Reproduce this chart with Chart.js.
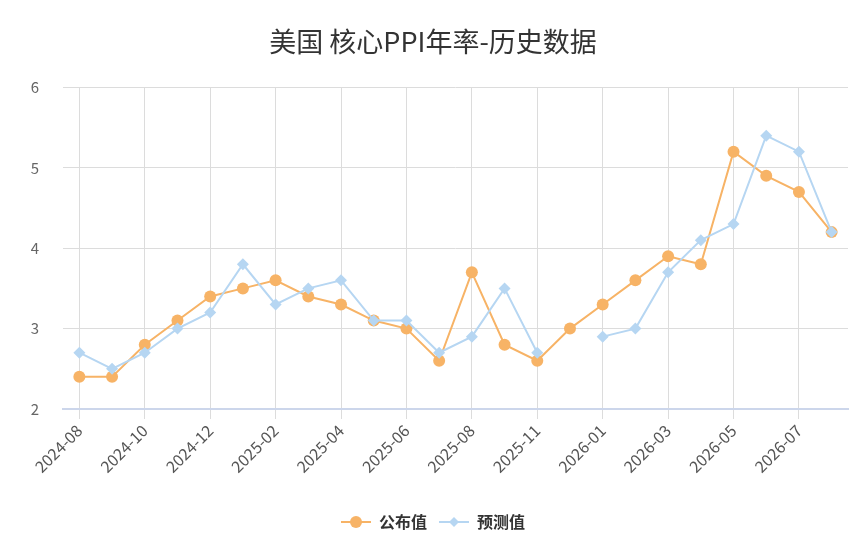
<!DOCTYPE html>
<html>
<head>
<meta charset="utf-8">
<script src="https://cdn.jsdelivr.net/npm/chart.js@4/dist/chart.umd.min.js"></script>
<style>
  html, body { margin: 0; padding: 0; background: #fff; }
  #wrap { width: 866px; height: 557px; }
</style>
</head>
<body>
<div id="wrap"><canvas id="ppi-chart"></canvas></div>
<script>
const months = ['2024-08', '2024-09', '2024-10', '2024-11', '2024-12', '2025-01', '2025-02', '2025-03',
  '2025-04', '2025-05', '2025-06', '2025-07', '2025-08', '2025-09', '2025-11', '2025-12',
  '2026-01', '2026-02', '2026-03', '2026-04', '2026-05', '2026-06', '2026-07', '2026-08'];
const published = [2.4, 2.4, 2.8, 3.1, 3.4, 3.5, 3.6, 3.4, 3.3, 3.1, 3.0, 2.6, 3.7, 2.8, 2.6, 3.0,
  3.3, 3.6, 3.9, 3.8, 5.2, 4.9, 4.7, 4.2];
const forecast = [2.7, 2.5, 2.7, 3.0, 3.2, 3.8, 3.3, 3.5, 3.6, 3.1, 3.1, 2.7, 2.9, 3.5, 2.7, null,
  2.9, 3.0, 3.7, 4.1, 4.3, 5.4, 5.2, 4.2];
const yTicks = [2, 3, 4, 5, 6];

const ORANGE = '#F7B366';
const BLUE = '#B6D6F2';
const FONT = '"Noto Sans CJK SC", "Noto Sans", sans-serif';

// little line+marker icons for the legend
function legendIcon(color, shape) {
  const c = document.createElement('canvas');
  c.width = 30; c.height = 14;
  const g = c.getContext('2d');
  g.strokeStyle = color; g.fillStyle = color; g.lineWidth = 2;
  g.beginPath(); g.moveTo(0, 7); g.lineTo(30, 7); g.stroke();
  g.beginPath();
  if (shape === 'circle') {
    g.arc(15, 7, 6, 0, Math.PI * 2);
  } else {
    g.moveTo(15, 2); g.lineTo(20, 7); g.lineTo(15, 12); g.lineTo(10, 7); g.closePath();
  }
  g.fill();
  return c;
}
const icons = [legendIcon(ORANGE, 'circle'), legendIcon(BLUE, 'diamond')];

new Chart(document.getElementById('ppi-chart'), {
  type: 'line',
  data: {
    labels: months,
    datasets: [
      {
        label: '公布值',
        data: published,
        borderColor: ORANGE,
        backgroundColor: ORANGE,
        pointBackgroundColor: ORANGE,
        pointBorderWidth: 0,
        pointStyle: 'circle',
        pointRadius: 6,
        borderWidth: 2,
        tension: 0,
        order: 2
      },
      {
        label: '预测值',
        data: forecast,
        borderColor: BLUE,
        backgroundColor: BLUE,
        pointBackgroundColor: BLUE,
        pointBorderWidth: 0,
        pointStyle: 'rectRot',
        pointRadius: 6,
        borderWidth: 2,
        tension: 0,
        spanGaps: false,
        order: 1
      }
    ]
  },
  options: {
    responsive: true,
    maintainAspectRatio: false,
    animation: false,
    layout: { padding: { left: 0, right: 0, top: 0, bottom: 17 } },
    plugins: {
      title: {
        display: true,
        text: '美国 核心PPI年率-历史数据',
        color: '#333',
        font: { family: FONT, size: 27, weight: 'normal' },
        padding: { top: 26, bottom: 29 }
      },
      legend: {
        position: 'bottom',
        labels: {
          usePointStyle: true,
          pointStyleWidth: 30,
          color: '#333',
          padding: 12,
          font: { family: FONT, size: 16, weight: 'bold' },
          sort: (a, b) => a.datasetIndex - b.datasetIndex,
          generateLabels: chart => {
            const items = Chart.defaults.plugins.legend.labels.generateLabels(chart);
            items.forEach(it => { it.pointStyle = icons[it.datasetIndex]; });
            return items;
          }
        }
      },
      tooltip: { enabled: false }
    },
    scales: {
      x: {
        offset: true,
        afterFit: axis => { axis.height = 93; },
        grid: {
          offset: false,
          color: ctx => (ctx.index % 2 === 0 ? '#dcdcdc' : 'rgba(0,0,0,0)'),
          tickLength: 10,
          drawOnChartArea: true
        },
        border: { color: '#ccd6eb', width: 2 },
        ticks: {
          autoSkip: false,
          minRotation: 45,
          maxRotation: 45,
          color: '#555',
          padding: 2,
          font: { family: FONT, size: 16 },
          callback: (v, i) => (i % 2 === 0 ? months[i] : '')
        }
      },
      y: {
        min: yTicks[0],
        max: yTicks[yTicks.length - 1],
        afterBuildTicks: axis => { axis.ticks = yTicks.map(v => ({ value: v })); },
        afterFit: axis => { axis.width = 63; },
        grid: { color: '#dcdcdc', drawTicks: false },
        border: { display: false },
        ticks: {
          color: '#666',
          padding: 24,
          font: { family: FONT, size: 15 }
        }
      },
      // empty right-hand axis, only keeps a margin beside the plot
      yPad: {
        position: 'right',
        min: 0,
        max: 1,
        afterFit: axis => { axis.width = 18; },
        grid: { display: false },
        border: { display: false },
        ticks: { display: false }
      }
    }
  }
});
</script>
</body>
</html>
